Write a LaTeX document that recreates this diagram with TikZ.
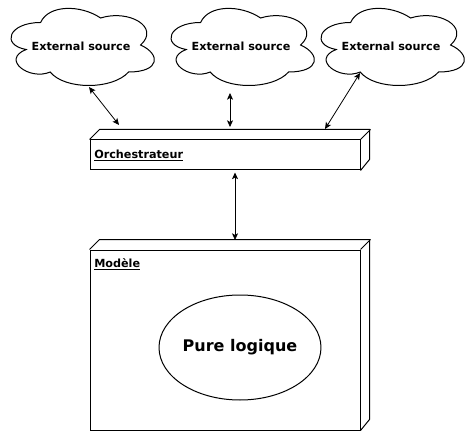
\documentclass[tikz,border=0pt]{standalone}
\usepackage{fontspec}
\setmainfont{DejaVu Sans}
\usetikzlibrary{arrows.meta,shapes.geometric}
\begin{document}
\begin{tikzpicture}[x=0.75pt,y=-0.75pt,
  edge/.style={line width=0.75pt, draw=black},
  lbl/.style={font=\fontsize{8.4pt}{10pt}\selectfont\bfseries, inner sep=0pt},
  frontbox/.style={edge, fill=white, inner sep=0pt},
  link/.style={line width=0.6pt, {Stealth[length=5pt,width=4.5pt,inset=1.2pt]}-{Stealth[length=5pt,width=4.5pt,inset=1.2pt]}},
  cloudpic/.pic={\draw[edge,fill=white] (0.25,0.25) .. controls (0.05,0.25) and (0,0.5) .. (0.16,0.55)
     .. controls (0,0.66) and (0.18,0.9) .. (0.31,0.8)
     .. controls (0.4,1) and (0.7,1) .. (0.8,0.8)
     .. controls (1,0.8) and (1,0.6) .. (0.875,0.5)
     .. controls (1,0.3) and (0.8,0.1) .. (0.625,0.2)
     .. controls (0.5,0.05) and (0.3,0.05) .. (0.25,0.25) -- cycle;}
]
\fill[white] (0,0) rectangle (471,431);
\useasboundingbox (0,0) rectangle (471,431);

% clouds
\pic[xscale=160,yscale=90] at (0.6,0) {cloudpic};
\pic[xscale=160,yscale=90] at (160.6,0) {cloudpic};
\pic[xscale=160,yscale=90] at (310.6,0) {cloudpic};
\node[lbl] (c1) at (81,46) {External source};
\node[lbl] (c2) at (241,46) {External source};
\node[lbl] (c3) at (391,46) {External source};

% Orchestrateur box
\node[frontbox, minimum width=202.5pt, minimum height=22.5pt] (orch) at (225,155) {};
\draw[edge] (orch.north west) -- ++(10,-10) -- ++(270,0) -- ++(0,30) -- (orch.south east);
\draw[edge] (orch.north east) -- ++(10,-10);
\node[lbl, anchor=west] (orchl) at (94,155.5) {\underline{Orchestrateur}};

% Modele box
\node[frontbox, minimum width=202.5pt, minimum height=135pt] (mod) at (225,340) {};
\draw[edge] (mod.north west) -- ++(10,-10) -- ++(270,0) -- ++(0,180) -- (mod.south east);
\draw[edge] (mod.north east) -- ++(10,-10);
\node[lbl, anchor=west] (modl) at (94,264.5) {\underline{Modèle}};

% ellipse
\node[edge, ellipse, minimum width=120pt, minimum height=78.75pt, inner sep=0pt,
      font=\fontsize{12pt}{14pt}\selectfont\bfseries] (logic) at (240,347.5) {\raisebox{-1pt}{Pure logique}};

% connector end points
\coordinate (a1s) at (89,87);
\coordinate (a1e) at (119,125);
\coordinate (a2s) at (230,93);
\coordinate (a2e) at (230,127);
\coordinate (a3s) at (360,73);
\coordinate (a3e) at (325,129);
\coordinate (a4s) at (235,172.5);
\coordinate (a4e) at (235,240);
\draw[link] (a1s) -- (a1e);
\draw[link] (a2s) -- (a2e);
\draw[link] (a3s) -- (a3e);
\draw[link] (a4s) -- (a4e);
\end{tikzpicture}
\end{document}
